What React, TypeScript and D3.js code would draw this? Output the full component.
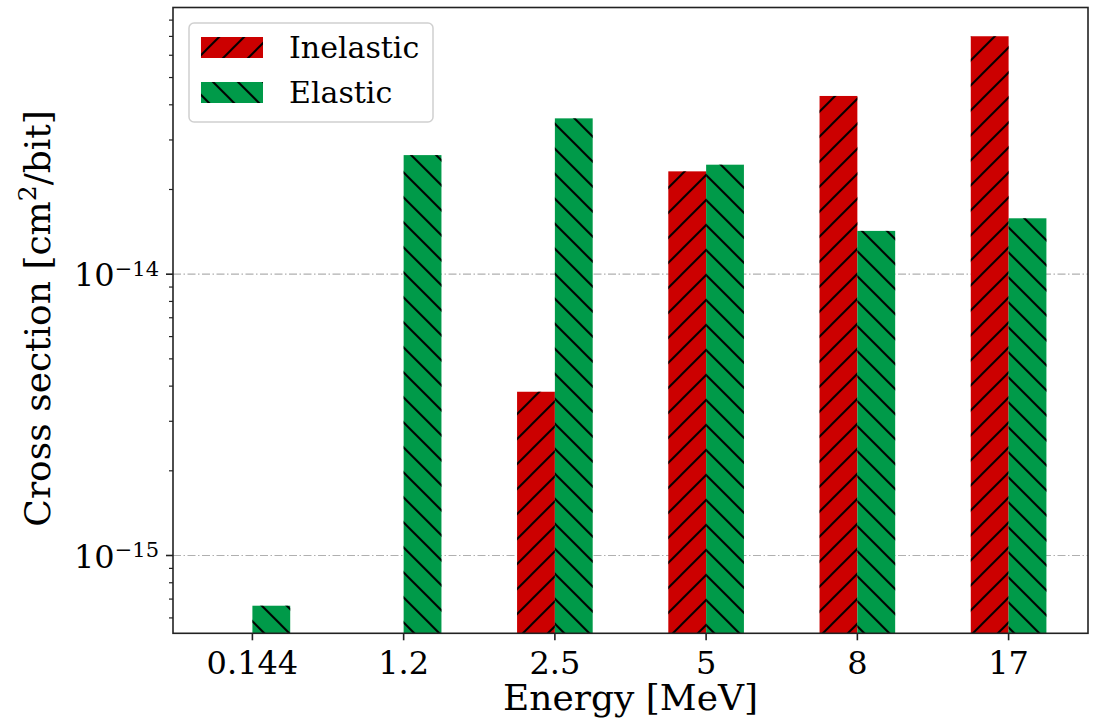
import React from 'react';
import * as d3 from 'd3';

const energies = ['0.144', '1.2', '2.5', '5', '8', '17'];
const inelastic: (number | null)[] = [null, null, 3.82e-15, 2.32e-14, 4.3e-14, 7.01e-14];
const elastic: (number | null)[] = [6.63e-16, 2.65e-14, 3.58e-14, 2.45e-14, 1.425e-14, 1.58e-14];
const seriesNames = ['Inelastic', 'Elastic'];
const yMajorTicks = [1e-15, 1e-14];
const yMajorExp = ['−15', '−14'];
const yDomain = [5.29e-16, 8.87e-14];

const W = 1094, H = 723;
const L = 173, R = 1088, T = 7.5, B = 633.3;
const FONT = 'DejaVu Serif';
const RED = '#cc0000';
const GREEN = '#009a49';

export default function App() {
  const x = d3.scaleLinear().domain([-0.525, energies.length - 1 + 0.525]).range([L, R]);
  const y = d3.scaleLog().domain(yDomain).range([B, T]);
  const bw = 0.25;
  const minor = y.ticks().filter((t) => {
    const lg = Math.log10(t);
    return Math.abs(lg - Math.round(lg)) > 1e-6 && y(t) >= T - 0.5 && y(t) <= B + 0.5;
  });
  const series = [
    { name: seriesNames[0], vals: inelastic, off: -bw, color: RED, pat: 'hatchF' },
    { name: seriesNames[1], vals: elastic, off: 0, color: GREEN, pat: 'hatchB' },
  ];
  const anchor = x(3);
  return (
    <svg width={W} height={H} style={{ position: 'absolute', left: 0, top: 0, background: '#fff' }} fontFamily={FONT}>
      <defs>
        <pattern id="hatchF" patternUnits="userSpaceOnUse" width={25} height={25} patternTransform={`translate(${anchor},0)`}>
          <path d="M0,25 L25,0 M-6,6 L6,-6 M19,31 L31,19" stroke="#000" strokeWidth={2} />
        </pattern>
        <pattern id="hatchB" patternUnits="userSpaceOnUse" width={25} height={25} patternTransform={`translate(${anchor},0)`}>
          <path d="M0,0 L25,25 M-6,19 L6,31 M19,-6 L31,6" stroke="#000" strokeWidth={2} />
        </pattern>
        <clipPath id="plot">
          <rect x={L} y={T} width={R - L} height={B - T} />
        </clipPath>
      </defs>
      <rect x={0} y={0} width={W} height={H} fill="#fff" />
      {/* grid lines */}
      {yMajorTicks.map((t, i) => (
        <line key={'g' + i} x1={L} x2={R} y1={y(t)} y2={y(t)} stroke="#b0b0b0" strokeWidth={1.2} strokeDasharray="8,2.5,1.5,2.5" />
      ))}
      {/* bars */}
      <g clipPath="url(#plot)">
        {series.map((s) =>
          s.vals.map((v, i) => {
            if (v == null) return null;
            const x0 = x(i + s.off);
            const x1 = x(i + s.off + bw);
            const yt = y(v);
            return (
              <g key={s.name + i}>
                <rect x={x0} y={yt} width={x1 - x0} height={B - yt} fill={s.color} />
                <rect x={x0} y={yt} width={x1 - x0} height={B - yt} fill={`url(#${s.pat})`} />
              </g>
            );
          })
        )}
      </g>
      {/* frame */}
      <rect x={L} y={T} width={R - L} height={B - T} fill="none" stroke="#222" strokeWidth={1.6} />
      {/* y ticks */}
      {yMajorTicks.map((t, i) => (
        <g key={'yt' + i}>
          <line x1={L - 7} x2={L} y1={y(t)} y2={y(t)} stroke="#222" strokeWidth={1.6} />
          <text x={159} y={y(t) + 12} textAnchor="end" fontSize={32} fill="#000">
            10
            <tspan dy={-10.5} fontSize={21}>{yMajorExp[i]}</tspan>
          </text>
        </g>
      ))}
      {minor.map((t, i) => (
        <line key={'ym' + i} x1={L - 4} x2={L} y1={y(t)} y2={y(t)} stroke="#222" strokeWidth={1.2} />
      ))}
      {/* x ticks */}
      {energies.map((e, i) => (
        <g key={'xt' + i}>
          <line x1={x(i)} x2={x(i)} y1={B} y2={B + 7} stroke="#222" strokeWidth={1.6} />
          <text x={x(i)} y={674} textAnchor="middle" fontSize={32} fill="#000">
            {e}
          </text>
        </g>
      ))}
      {/* axis labels */}
      <text x={(L + R) / 2} y={710} textAnchor="middle" fontSize={36} fill="#000">
        Energy [MeV]
      </text>
      <text transform={`translate(50,${(T + B) / 2 - 2}) rotate(-90)`} textAnchor="middle" fontSize={36} fill="#000">
        Cross section [cm
        <tspan dy={-14} fontSize={25}>2</tspan>
        <tspan dy={14}>/bit]</tspan>
      </text>
      {/* legend */}
      <g>
        <rect x={189} y={23} width={244} height={99} rx={5} fill="#fff" fillOpacity={0.8} stroke="#d0d0d0" strokeWidth={1.5} />
        {series.map((s, i) => (
          <g key={'lg' + i}>
            <rect x={201} y={37 + i * 45} width={62} height={21} fill={s.color} />
            <rect x={201} y={37 + i * 45} width={62} height={21} fill={`url(#${s.pat})`} />
            <text x={289} y={58.3 + i * 44.5} fontSize={30} fill="#000">
              {s.name}
            </text>
          </g>
        ))}
      </g>
    </svg>
  );
}
